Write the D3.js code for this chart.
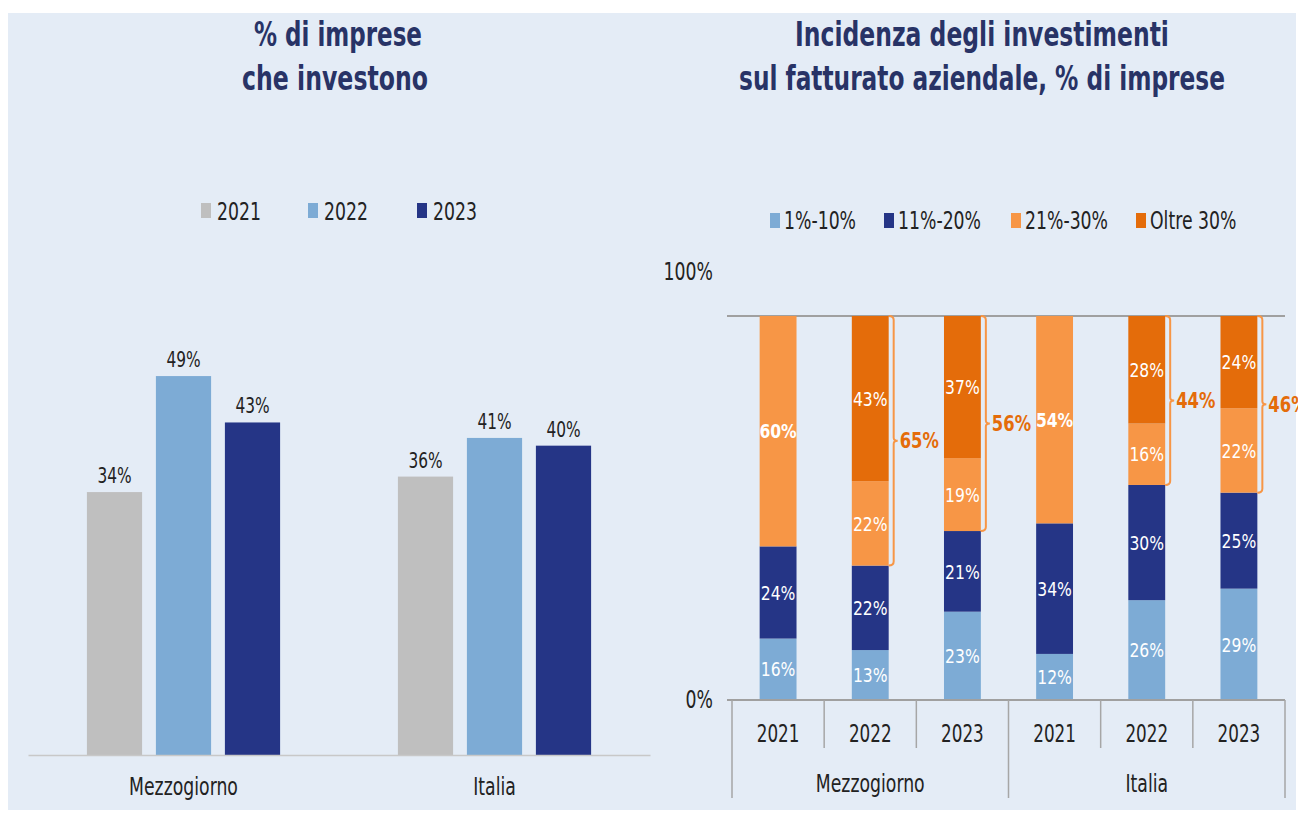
<!DOCTYPE html>
<html><head><meta charset="utf-8">
<script src="https://cdn.jsdelivr.net/npm/d3@7"></script>
<style>html,body{margin:0;padding:0;background:#fff;} svg{display:block;}</style>
</head><body>
<svg id="c" width="1298" height="814"></svg>
<script>
// ---------- DATA ----------
const leftCategories = ["Mezzogiorno", "Italia"];
const leftYears = ["2021", "2022", "2023"];
const leftMezzogiorno = [34, 49, 43];
const leftItalia = [36, 41, 40];

const rightGroups = ["Mezzogiorno", "Italia"];
const rightYears = ["2021", "2022", "2023"];
const rightSeries = ["1%-10%", "11%-20%", "21%-30%", "Oltre 30%"];
const share1to10  = [16, 13, 23, 12, 26, 29];
const share11to20 = [24, 22, 21, 34, 30, 25];
const share21to30 = [60, 22, 19, 54, 16, 22];
const shareOver30 = [0, 43, 37, 0, 28, 24];
const rightTicks = [0, 100];

// ---------- STYLE ----------
const FONT = "'DejaVu Sans', Verdana, sans-serif";
const leftColors = ["#BFBFBF", "#7DABD5", "#253586"];
const rightColors = ["#7DABD5", "#253586", "#F79646", "#E46C0A"];
const TITLE = "#283366", TXT = "#222222";

const svg = d3.select("#c");
svg.append("rect").attr("x", 8).attr("y", 13).attr("width", 1288).attr("height", 797).attr("fill", "#E4ECF6");

function label(g, x, y, s, o) {
  o = o || {};
  const t = g.append("text")
    .attr("transform", `translate(${x},${y}) scale(${o.sx || 0.72},1)`)
    .attr("text-anchor", o.anchor || "middle")
    .attr("font-family", FONT)
    .attr("font-size", o.size || 24)
    .attr("font-weight", o.weight || "normal")
    .attr("fill", o.fill || TXT)
    .text(s);
  if (o.dy) t.attr("dy", o.dy);
  return t;
}
function title(x, y, s, w) {
  const t = label(svg, x, y, s, {size: 34, weight: "bold", fill: TITLE, sx: 1});
  const L = t.node().getComputedTextLength();
  t.attr("transform", `translate(${x},${y}) scale(${w / L},1)`);
}

// ---------- TITLES ----------
title(338, 46, "% di imprese", 168);
title(335, 90, "che investono", 186);
title(982, 46, "Incidenza degli investimenti", 374);
title(982, 90, "sul fatturato aziendale, % di imprese", 486);

// ---------- LEFT CHART ----------
const L = svg.append("g");
const x0 = d3.scaleBand().domain(leftCategories).range([28, 650]);
const x1 = d3.scaleBand().domain(leftYears).range([0, 207]).paddingInner(0.2).paddingOuter(0.1);
const yL = d3.scaleLinear().domain([0, 60]).range([755, 291]);
const leftRows = [leftMezzogiorno, leftItalia];

leftCategories.forEach((c, ci) => {
  const gx = x0(c) + x0.bandwidth() / 2 - 103.5;
  leftYears.forEach((yr, yi) => {
    const v = leftRows[ci][yi];
    L.append("rect")
      .attr("x", gx + x1(yr)).attr("width", x1.bandwidth())
      .attr("y", yL(v)).attr("height", yL(0) - yL(v))
      .attr("fill", leftColors[yi]);
    label(L, gx + x1(yr) + x1.bandwidth() / 2, yL(v) - 9, v + "%", {size: 22, sx: 0.7});
  });
});
const axL = L.append("g").attr("transform", `translate(0,${yL(0)})`)
  .call(d3.axisBottom(x0).tickSize(0));
axL.select(".domain").attr("stroke", "#C8C8C8").attr("stroke-width", 1.5);
axL.selectAll("text").attr("y", 40).attr("dy", null)
  .attr("font-family", FONT).attr("font-size", 24).attr("fill", TXT)
  .attr("transform", "scale(0.72,1)");

// left legend
const legLX = [201, 308, 417];
leftYears.forEach((yr, i) => {
  L.append("rect").attr("x", legLX[i]).attr("y", 203).attr("width", 10).attr("height", 15).attr("fill", leftColors[i]);
  label(L, legLX[i] + 16, 220, yr, {anchor: "start", size: 24, sx: 0.72});
});

// ---------- RIGHT CHART ----------
const R = svg.append("g");
const keys = [];
rightGroups.forEach(g => rightYears.forEach(y => keys.push(g + "|" + y)));
const table = keys.map((k, i) => ({
  key: k,
  "1%-10%": share1to10[i], "11%-20%": share11to20[i],
  "21%-30%": share21to30[i], "Oltre 30%": shareOver30[i]
}));
const xr = d3.scaleBand().domain(keys).range([732, 1285]);
const yr = d3.scaleLinear().domain([0, 100]).range([700, 316]);
const barW = xr.bandwidth() * 0.4;
const bx = k => xr(k) + (xr.bandwidth() - barW) / 2;

// gridline at 100% and baseline
R.append("line").attr("x1", 727).attr("x2", xr.range()[1]).attr("y1", yr(100)).attr("y2", yr(100))
  .attr("stroke", "#A0A0A0").attr("stroke-width", 2);

const stack = d3.stack().keys(rightSeries)(table);
stack.forEach((layer, si) => {
  layer.forEach((d, i) => {
    const v = d[1] - d[0];
    if (v <= 0) return;
    const k = d.data.key;
    R.append("rect").attr("x", bx(k)).attr("width", barW)
      .attr("y", yr(d[1])).attr("height", yr(d[0]) - yr(d[1]))
      .attr("fill", rightColors[si]);
    const bold = si === 2 && shareOver30[i] === 0;
    label(R, bx(k) + barW / 2, (yr(d[0]) + yr(d[1])) / 2, v + "%",
      {size: 20, sx: 0.78, fill: "#FFFFFF", weight: bold ? "bold" : "normal", dy: "0.36em"});
  });
});

// brackets for 21-30 + Oltre 30
table.forEach((d, i) => {
  if (shareOver30[i] <= 0) return;
  const k = d.key;
  const top = yr(100);
  const bottom = yr(share1to10[i] + share11to20[i]);
  const mid = (top + bottom) / 2;
  const x = bx(k) + barW + 5;
  const p = `M${x - 5},${top} Q${x},${top} ${x},${top + 4} L${x},${mid - 3} Q${x},${mid} ${x + 4},${mid} ` +
            `Q${x},${mid} ${x},${mid + 3} L${x},${bottom - 4} Q${x},${bottom} ${x - 5},${bottom}`;
  R.append("path").attr("d", p).attr("fill", "none").attr("stroke", "#F79646").attr("stroke-width", 2);
  label(R, x + 6, mid, (share21to30[i] + shareOver30[i]) + "%",
    {anchor: "start", size: 21, sx: 0.78, weight: "bold", fill: "#E46C0A", dy: "0.36em"});
});

R.append("line").attr("x1", 727).attr("x2", xr.range()[1]).attr("y1", yr(0)).attr("y2", yr(0))
  .attr("stroke", "#A0A0A0").attr("stroke-width", 2);

// x-axis: separators and labels
keys.forEach((k, i) => {
  const xs = xr(k);
  R.append("line").attr("x1", xs).attr("x2", xs).attr("y1", yr(0)).attr("y2", i % 3 === 0 ? 798 : 748)
    .attr("stroke", "#A6A6A6").attr("stroke-width", 1.5);
  label(R, xs + xr.bandwidth() / 2, 742, k.split("|")[1], {size: 24, sx: 0.7});
});
R.append("line").attr("x1", xr.range()[1]).attr("x2", xr.range()[1]).attr("y1", yr(0)).attr("y2", 798)
  .attr("stroke", "#A6A6A6").attr("stroke-width", 1.5);
rightGroups.forEach(g => {
  const a = xr(g + "|" + rightYears[0]);
  const b = xr(g + "|" + rightYears[rightYears.length - 1]) + xr.bandwidth();
  label(R, (a + b) / 2, 792, g, {size: 24, sx: 0.72});
});

// y-axis labels
const yLab = d3.scaleLinear().domain([0, 100]).range([700, 272]);
const axR = R.append("g").attr("transform", "translate(713,0)")
  .call(d3.axisLeft(yLab).tickValues(rightTicks).tickFormat(d => d + "%").tickSize(0).tickPadding(0));
axR.select(".domain").remove();
axR.selectAll("text").attr("font-family", FONT).attr("font-size", 24).attr("fill", TXT)
  .attr("transform", "scale(0.72,1)");

// right legend
const legRX = [770, 884, 1011, 1136];
rightSeries.forEach((s, i) => {
  R.append("rect").attr("x", legRX[i]).attr("y", 213).attr("width", 10).attr("height", 15).attr("fill", rightColors[i]);
  label(R, legRX[i] + 14, 229, s, {anchor: "start", size: 24, sx: 0.72});
});
</script>
</body></html>
